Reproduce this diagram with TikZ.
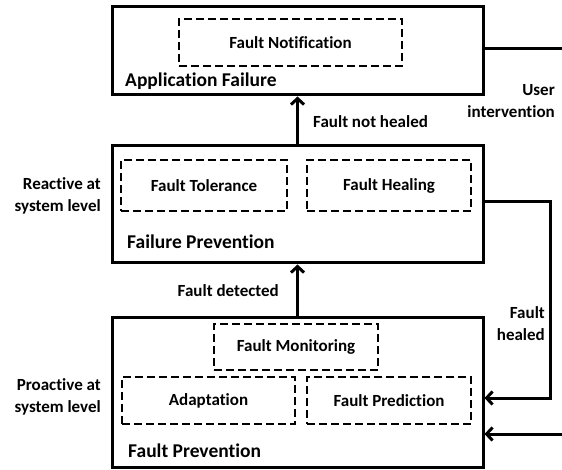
\documentclass[tikz,border=0pt]{standalone}
\usepackage{fontspec}
\newfontfamily\bfam{Carlito Bold}[Ligatures=NoCommon]
\usetikzlibrary{arrows.meta}
\begin{document}
\begin{tikzpicture}[x=1pt,y=-1pt,
  outerbox/.style={draw,line width=3pt,minimum width=371pt,inner sep=0pt},
  dbox/.style={draw,line width=2.5pt,dash pattern=on 8pt off 4pt,inner sep=0pt,font=\bfam\fontsize{17}{18}\selectfont},
  blabel/.style={anchor=west,inner sep=0pt,font=\bfam\fontsize{19.5}{20}\selectfont},
  slabel/.style={inner sep=0pt,font=\bfam\fontsize{17}{22}\selectfont},
  conn/.style={line width=3pt,-{Straight Barb[length=6pt,width=13pt,line width=3pt]}}]
\clip (0,0) rectangle (562,470);
\fill[white] (0,0) rectangle (562,470);
% outer boxes
\node[outerbox,minimum height=88pt] (top) at (297.5,51) {};
\node[outerbox,minimum height=117pt] (mid) at (297.5,204.5) {};
\node[outerbox,minimum height=150pt] (bot) at (297.5,392) {};
% dashed boxes
\node[dbox,minimum width=223pt,minimum height=47pt] (fn) at (290.5,42.5) {Fault Notification};
\node[dbox,minimum width=166pt,minimum height=51pt] (ft) at (204,185.5) {Fault Tolerance};
\node[dbox,minimum width=164pt,minimum height=51pt] (fh) at (389,185.5) {Fault Healing};
\node[dbox,minimum width=164pt,minimum height=46pt] (fm) at (296,347) {Fault Monitoring};
\node[dbox,minimum width=173pt,minimum height=47pt] (ad) at (208.5,400.5) {Adaptation};
\node[dbox,minimum width=164pt,minimum height=47pt] (fp) at (389,400.5) {Fault Prediction};
% box labels
\node[blabel] (la) at (125,81) {Application Failure};
\node[blabel] (lb) at (127,242) {Failure Prevention};
\node[blabel] (lc) at (128,451) {Fault Prevention};
% side labels
\node[slabel,anchor=east,align=right] (re) at (101,196) {Reactive at\\system level};
\node[slabel,anchor=east,align=right] (pr) at (101,397) {Proactive at\\system level};
% connector labels
\node[slabel,anchor=west] (fnh) at (313,122) {Fault not healed};
\node[slabel,anchor=east] (fd) at (279,291) {Fault detected};
\node[slabel,anchor=east,align=right] (ui) at (555,101) {User\\intervention};
\node[slabel,anchor=east,align=right] (fhl) at (545,324) {Fault\\healed};
% connectors
\draw[conn] (bot.north) -- (mid.south);
\draw[conn] (mid.north) -- (top.south);
\coordinate (r1) at (550,202);
\coordinate (r2) at (570,49);
\draw[conn] (mid.east |- r1) -- (r1) |- (bot.east |- 0,398);
\draw[conn] (top.east |- r2) -- (r2) |- (bot.east |- 0,434);
\end{tikzpicture}
\end{document}
